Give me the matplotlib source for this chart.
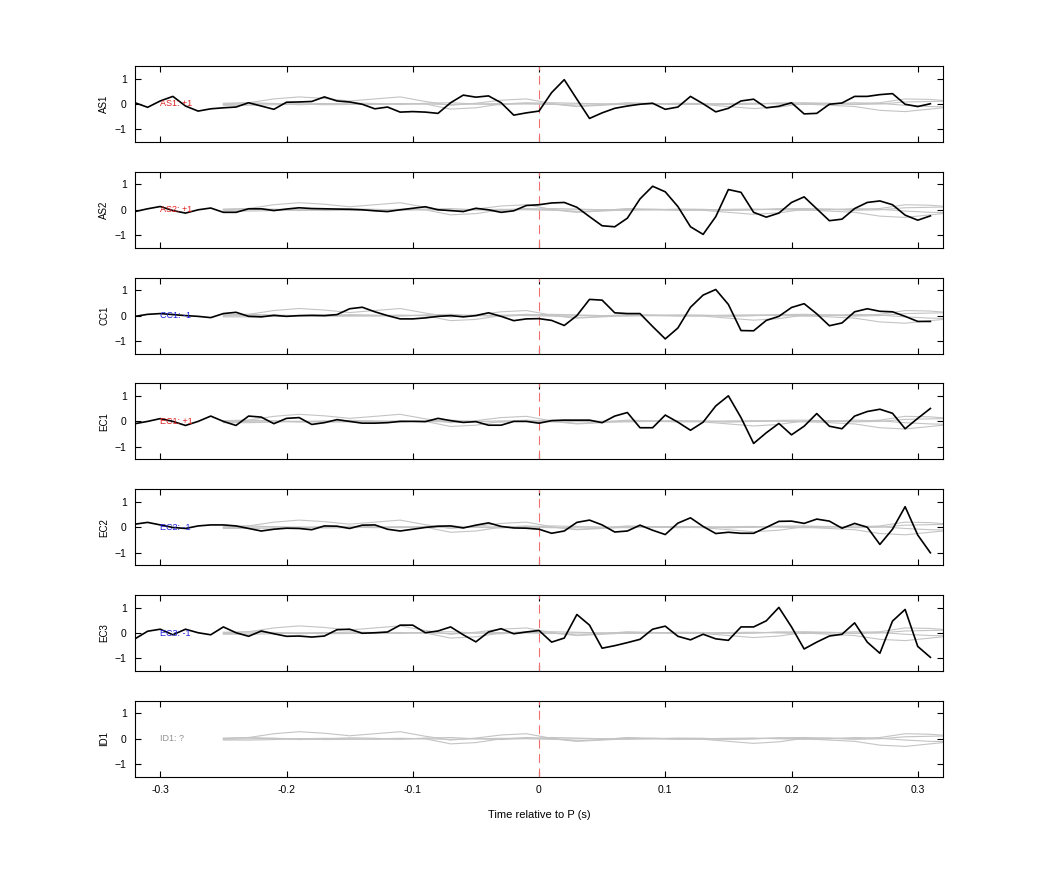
import numpy as np
import matplotlib
matplotlib.use('Agg')
import matplotlib.pyplot as plt

plt.rcParams['font.family'] = ['Liberation Sans', 'DejaVu Sans']

stations = ['AS1', 'AS2', 'CC1', 'EC1', 'EC2', 'EC3', 'ID1']
polarity = ['+1', '+1', '-1', '+1', '-1', '-1', '?']
pol_color = {'+1': '#e02020', '-1': '#2020e0', '?': '#909090'}

t = np.round(np.arange(-0.32, 0.315, 0.01), 2)

as1 = [0.05, -0.13, 0.12, 0.3, -0.08, -0.28, -0.19, -0.15, -0.12, 0.05, -0.08, -0.21, 0.07, 0.08, 0.1, 0.28,
       0.12, 0.08, -0.01, -0.19, -0.12, -0.32, -0.3, -0.32, -0.37, 0.05, 0.35, 0.27, 0.32, 0.05, -0.44, -0.35,
       -0.28, 0.45, 0.96, 0.19, -0.57, -0.35, -0.17, -0.08, -0.01, 0.03, -0.21, -0.12, 0.3, 0.01, -0.31, -0.17,
       0.12, 0.19, -0.15, -0.09, 0.05, -0.39, -0.37, -0.01, 0.04, 0.3, 0.3, 0.37, 0.41, -0.01, -0.1, 0.01]
as2 = [-0.07, 0.04, 0.13, -0.03, -0.13, 0.0, 0.07, -0.1, -0.1, 0.04, 0.04, -0.03, 0.03, 0.08, 0.05, 0.04,
       0.03, 0.02, 0.0, -0.04, -0.07, 0.0, 0.06, 0.12, 0.0, -0.03, -0.07, 0.06, 0.0, -0.1, -0.04, 0.17,
       0.2, 0.27, 0.29, 0.1, -0.27, -0.63, -0.67, -0.33, 0.43, 0.93, 0.71, 0.13, -0.67, -0.97, -0.27, 0.8,
       0.69, -0.1, -0.29, -0.13, 0.29, 0.51, 0.04, -0.43, -0.37, 0.05, 0.29, 0.35, 0.2, -0.21, -0.41, -0.24]
cc1 = [-0.03, 0.05, 0.08, 0.04, 0.0, -0.03, -0.08, 0.08, 0.13, -0.03, -0.05, 0.01, -0.03, 0.0, 0.01, 0.0,
       0.04, 0.27, 0.33, 0.15, 0.0, -0.13, -0.13, -0.09, -0.03, 0.0, -0.05, 0.0, 0.11, -0.03, -0.2, -0.13,
       -0.12, -0.19, -0.39, 0.0, 0.64, 0.61, 0.11, 0.08, 0.08, -0.43, -0.92, -0.49, 0.33, 0.81, 1.03, 0.44,
       -0.59, -0.6, -0.19, -0.03, 0.32, 0.47, 0.07, -0.4, -0.29, 0.15, 0.27, 0.17, 0.15, -0.03, -0.23, -0.23]
ec1 = [-0.09, 0.0, 0.11, 0.0, -0.16, 0.0, 0.21, 0.0, -0.16, 0.21, 0.17, -0.09, 0.12, 0.15, -0.12, -0.05,
       0.07, 0.0, -0.07, -0.07, -0.05, 0.0, 0.0, -0.01, 0.12, 0.03, -0.04, -0.01, -0.15, -0.15, 0.0, 0.0,
       -0.07, 0.03, 0.05, 0.05, 0.05, -0.05, 0.21, 0.35, -0.25, -0.25, 0.25, -0.03, -0.35, -0.03, 0.61, 1.01,
       0.15, -0.87, -0.45, -0.08, -0.53, -0.19, 0.31, -0.19, -0.29, 0.21, 0.39, 0.48, 0.32, -0.29, 0.12, 0.51]
ec2 = [0.12, 0.19, 0.09, -0.01, -0.05, 0.05, 0.09, 0.09, 0.05, -0.05, -0.15, -0.08, -0.04, -0.05, -0.1, 0.05,
       0.04, -0.05, 0.08, 0.09, -0.08, -0.15, -0.08, -0.01, 0.04, 0.05, -0.03, 0.08, 0.17, 0.03, -0.03, -0.04,
       -0.08, -0.24, -0.15, 0.19, 0.28, 0.09, -0.19, -0.15, 0.08, -0.12, -0.29, 0.16, 0.37, 0.03, -0.25, -0.2,
       -0.24, -0.24, -0.01, 0.23, 0.24, 0.15, 0.32, 0.24, -0.04, 0.15, 0.0, -0.68, -0.08, 0.81, -0.31, -1.01]
ec3 = [-0.23, 0.07, 0.15, -0.07, 0.15, 0.01, -0.07, 0.24, 0.01, -0.13, 0.08, -0.03, -0.13, -0.12, -0.16, -0.12,
       0.13, 0.15, -0.01, 0.01, 0.04, 0.31, 0.31, 0.01, 0.08, 0.24, -0.07, -0.35, 0.04, 0.17, -0.03, 0.04,
       0.1, -0.36, -0.2, 0.73, 0.31, -0.6, -0.5, -0.38, -0.25, 0.15, 0.27, -0.13, -0.27, -0.05, -0.23, -0.29,
       0.24, 0.24, 0.48, 1.01, 0.24, -0.63, -0.36, -0.12, -0.05, 0.4, -0.36, -0.8, 0.47, 0.93, -0.53, -0.96]
traces = [as1, as2, cc1, ec1, ec2, ec3, None]

# background (gray) templates, 0.02 s apart
tg = np.round(np.arange(-0.25, 0.335, 0.02), 2)
gray_a = [0.0, 0.05, 0.2, 0.28, 0.22, 0.12, 0.2, 0.28, 0.1, -0.05, 0.03, 0.15, 0.2, 0.02, -0.08, -0.03,
          0.05, 0.02, 0.0, -0.02, -0.1, -0.18, -0.12, 0.02, 0.03, 0.0, 0.05, 0.2, 0.18, 0.1]
gray_b = [-0.05, -0.05, -0.03, 0.0, 0.02, 0.0, -0.02, 0.0, 0.0, -0.2, -0.15, 0.0, 0.05, 0.0, -0.1, -0.05,
          0.0, 0.02, 0.0, 0.0, -0.02, 0.0, 0.03, 0.0, -0.05, -0.1, -0.25, -0.3, -0.2, -0.1]
gray_c = [0.03, 0.05, 0.02, -0.03, 0.0, 0.04, 0.02, -0.02, 0.03, 0.05, 0.0, -0.03, 0.02, 0.05, 0.03, 0.0,
          -0.02, 0.0, 0.03, 0.02, -0.02, 0.0, 0.04, 0.05, 0.02, -0.02, 0.0, 0.08, 0.1, 0.12]
gray_d = [-0.02, 0.0, 0.02, 0.0, -0.03, -0.02, 0.0, 0.02, 0.0, -0.02, 0.0, 0.02, 0.0, -0.02, 0.0, 0.0,
          0.02, 0.0, -0.02, 0.0, 0.02, 0.03, 0.0, -0.02, 0.0, 0.05, 0.02, -0.05, -0.1, -0.12]
grays = [gray_a, gray_b, gray_c, gray_d]

fig = plt.figure(figsize=(10.42, 8.75), dpi=100)
left, width = 135 / 1042, (943 - 135) / 1042
for i, st in enumerate(stations):
    top = 66 + i * 105.8
    ax = fig.add_axes([left, 1 - (top + 76) / 875, width, 76 / 875])
    for g in grays:
        ax.plot(tg, g, color='#c4c4c4', lw=0.8)
    ax.axvline(0, color='#f07070', lw=0.8, ls=(0, (8, 5)))
    if traces[i] is not None:
        ax.plot(t, traces[i], color='black', lw=1.2)
    ax.text(-0.3, 0, st + ': ' + polarity[i], color=pol_color[polarity[i]],
            fontsize=6.5, va='center', ha='left')
    ax.set_xlim(-0.32, 0.32)
    ax.set_ylim(-1.5, 1.5)
    ax.set_yticks([-1, 0, 1])
    ax.set_xticks([-0.3, -0.2, -0.1, 0, 0.1, 0.2, 0.3])
    ax.set_ylabel(st, fontsize=7, labelpad=4)
    ax.tick_params(direction='in', top=True, right=True, labelsize=7.5, length=4, pad=6)
    if i < len(stations) - 1:
        ax.set_xticklabels([])
    else:
        ax.set_xticklabels(['-0.3', '-0.2', '-0.1', '0', '0.1', '0.2', '0.3'])
        ax.set_xlabel('Time relative to P (s)', fontsize=8, labelpad=11)

fig.savefig('out.png', dpi=100)
